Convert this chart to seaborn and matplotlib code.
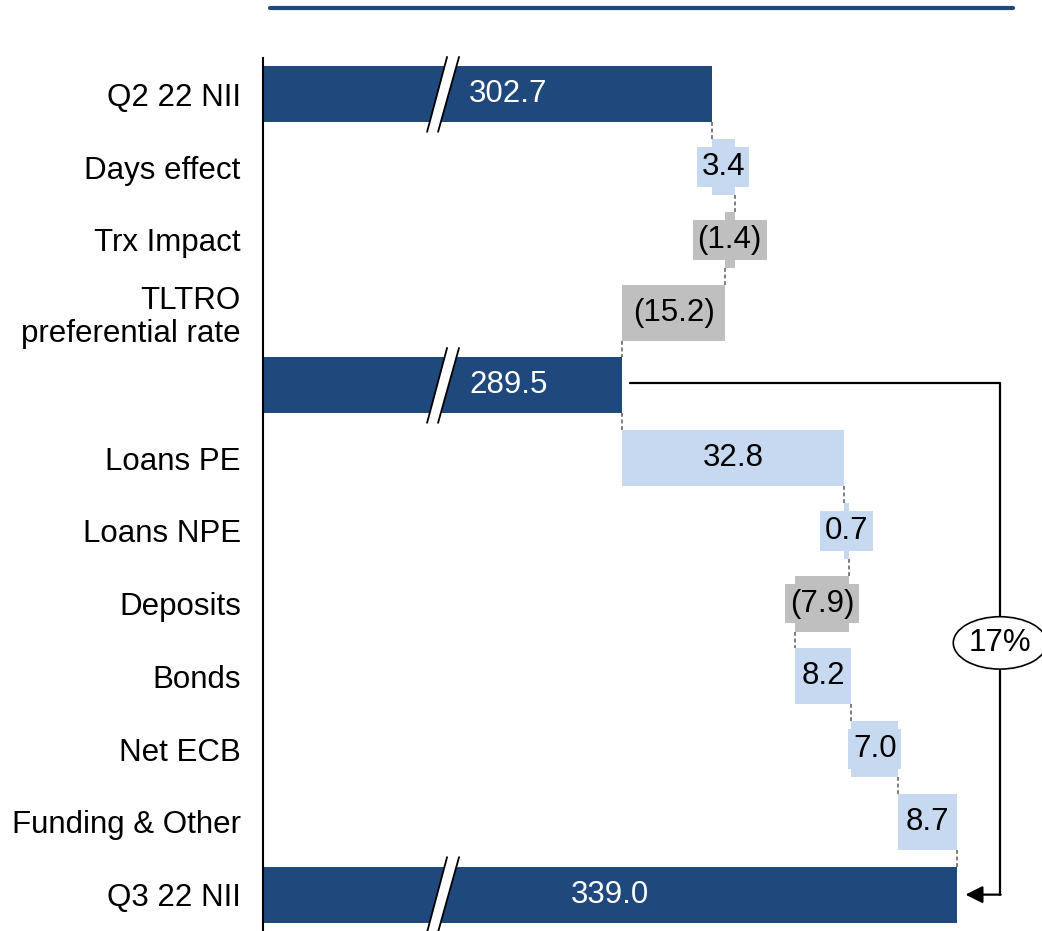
import numpy as np
import pandas as pd
import matplotlib
matplotlib.use("Agg")
import matplotlib.pyplot as plt
from matplotlib.patches import Ellipse, Polygon
from matplotlib.lines import Line2D
import seaborn as sns

# Data (NII bridge, EUR m)
labels = ["Q2 22 NII", "Days effect", "Trx Impact", "TLTRO\npreferential rate", "",
          "Loans PE", "Loans NPE", "Deposits", "Bonds", "Net ECB", "Funding & Other", "Q3 22 NII"]
values = [302.7, 3.4, -1.4, -15.2, 289.5, 32.8, 0.7, -7.9, 8.2, 7.0, 8.7, 339.0]
kinds = ["total", "delta", "delta", "delta", "total",
         "delta", "delta", "delta", "delta", "delta", "delta", "total"]
value_text = ["302.7", "3.4", "(1.4)", "(15.2)", "289.5", "32.8", "0.7", "(7.9)",
              "8.2", "7.0", "8.7", "339.0"]
growth_text = "17%"

DARK = "#1F497D"
LIGHT = "#C6D9F1"
GREY = "#BFBFBF"
FS = 22.5

sns.set_style("white")
plt.rcParams["font.family"] = ["Liberation Sans", "DejaVu Sans"]

# waterfall geometry
BASE = 200.0      # totals start off-axis (broken axis)
XMIN, XMAX = 236.47, 351.5
BREAK_X = 263.06
BAR_H = 0.77

starts, ends = [], []
running = 0.0
for v, k in zip(values, kinds):
    if k == "total":
        starts.append(BASE)
        running = v
        ends.append(v)
    else:
        starts.append(running)
        running += v
        ends.append(running)
starts = np.array(starts)
ends = np.array(ends)
left = np.minimum(starts, ends)
span = np.abs(ends - starts)
colors = [DARK if k == "total" else (LIGHT if v > 0 else GREY) for v, k in zip(values, kinds)]

df = pd.DataFrame({"step": labels, "span": span})

fig = plt.figure(figsize=(10.42, 9.31), dpi=100)
ax = fig.add_axes([263 / 1042, 0, 779 / 1042, 873 / 931])

sns.barplot(data=df, x="span", y="step", order=labels, orient="h", width=BAR_H,
            left=left, color=DARK, errorbar=None, ax=ax)
for patch, c in zip(ax.patches, colors):
    patch.set_facecolor(c)
    patch.set_edgecolor("none")
    patch.set_linewidth(0)

ax.set_xlim(XMIN, XMAX)
ax.set_ylim(11.5, -0.5)
ax.set_xticks([])
ax.set_xlabel("")
ax.set_ylabel("")
ax.tick_params(axis="y", length=0, pad=16, labelsize=FS, labelcolor="black")
for t in ax.get_yticklabels():
    t.set_linespacing(1.12)
sns.despine(ax=ax, left=False, bottom=True)
ax.spines["left"].set_color("black")
ax.spines["left"].set_linewidth(1.5)

# axis break marks on the total bars
for i, k in enumerate(kinds):
    if k != "total":
        continue
    y0, y1 = i + 0.515, i - 0.515
    ax.add_patch(Polygon([(BREAK_X - 2.36, y0), (BREAK_X - 0.74, y0),
                          (BREAK_X + 2.36, y1), (BREAK_X + 0.59, y1)],
                         facecolor="white", edgecolor="none", zorder=3, clip_on=False))
    ax.plot([BREAK_X - 2.36, BREAK_X + 0.59], [y0, y1], color="black", lw=1.3, zorder=4, clip_on=False)
    ax.plot([BREAK_X - 0.74, BREAK_X + 2.36], [y0, y1], color="black", lw=1.3, zorder=4, clip_on=False)

# value labels
for i, (k, s, e, txt, c) in enumerate(zip(kinds, starts, ends, value_text, colors)):
    if k == "total":
        x = max(BREAK_X + 9.6, (XMIN + e) / 2)
        ax.text(x, i, txt, ha="center", va="center", fontsize=FS, color="white", zorder=5)
    else:
        ax.text((s + e) / 2, i, txt, ha="center", va="center", fontsize=FS, color="black", zorder=5,
                bbox=dict(boxstyle="square,pad=0.15", facecolor=c, edgecolor="none"))

# dashed connectors
for i in range(len(values) - 1):
    x = ends[i]
    ax.plot([x, x], [i + BAR_H / 2, i + 1 - BAR_H / 2], color="#595959", lw=1.1,
            ls=(0, (2.5, 1.8)), zorder=2)

# growth arrow from subtotal to Q3
i_sub = 4
i_end = len(values) - 1
arrow_x = 345.3
ax.plot([ends[i_sub] + 1.2, arrow_x, arrow_x], [i_sub - 0.03, i_sub - 0.03, i_end],
        color="black", lw=1.6, zorder=4, clip_on=False)
ax.annotate("", xy=(ends[i_end] + 1.2, i_end), xytext=(arrow_x + 0.1, i_end),
            arrowprops=dict(arrowstyle="-|>", color="black", lw=1.6, mutation_scale=26,
                            shrinkA=0, shrinkB=0), zorder=4)
ax.add_patch(Ellipse((arrow_x, 7.54), 13.8, 0.72, facecolor="white", edgecolor="black",
                     lw=1.2, zorder=5, clip_on=False))
ax.text(arrow_x, 7.54, growth_text, ha="center", va="center", fontsize=FS, color="black", zorder=6)

# header rule
fig.add_artist(Line2D([270 / 1042, 1013 / 1042], [1 - 8 / 931] * 2, color=DARK, lw=3))

fig.savefig("out.png", dpi=100)
